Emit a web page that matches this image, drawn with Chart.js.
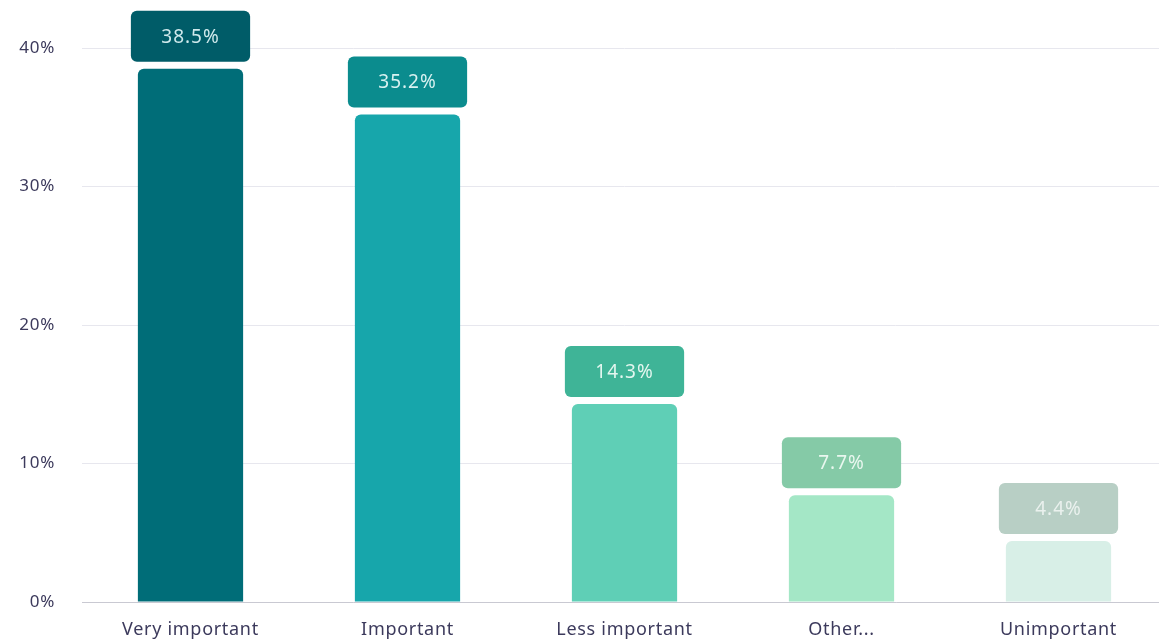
<!DOCTYPE html>
<html>
<head>
<meta charset="utf-8">
<script src="https://cdn.jsdelivr.net/npm/chart.js@4"></script>
<style>
  html, body { margin: 0; padding: 0; background: #fff; overflow: hidden; }
  #wrap { width: 1167px; height: 641px; position: relative; }
</style>
</head>
<body>
<div id="wrap"><canvas id="importanceChart"></canvas></div>
<script>
  // Survey answers (share of respondents, %)
  const categories = ['Very important', 'Important', 'Less important', 'Other...', 'Unimportant'];
  const shares = [38.5, 35.2, 14.3, 7.7, 4.4];
  const yTicks = [0, 10, 20, 30, 40];

  const barColors = ['#006d78', '#17a6ab', '#5fcfb6', '#a4e7c6', '#d8efe7'];
  const boxColors = ['#005c68', '#0b8c8e', '#3fb497', '#85caa7', '#b8cfc5'];
  const boxText = ['#cfe9ec', '#d8f1f0', '#e3f6ef', '#e9f7ef', '#eaf1ee'];

  const FONT = '"Noto Sans", Lato, sans-serif';

  // a bit of tracking so the text is as wide as the original's
  const tracking = {
    id: 'tracking',
    beforeDraw(chart) { chart.ctx.letterSpacing = '0.7px'; }
  };

  // rounded label boxes above every bar
  const valueBoxes = {
    id: 'valueBoxes',
    afterDatasetsDraw(chart) {
      const ctx = chart.ctx;
      const meta = chart.getDatasetMeta(0);
      ctx.save();
      meta.data.forEach((bar, i) => {
        const w = bar.width + 14;
        const h = 51;
        const x = bar.x - w / 2;
        const y = bar.y - 7 - h;
        ctx.fillStyle = boxColors[i];
        ctx.beginPath();
        ctx.roundRect(x, y, w, h, 6);
        ctx.fill();
        ctx.fillStyle = boxText[i];
        ctx.letterSpacing = '1px';
        ctx.font = '19px ' + FONT;
        ctx.textAlign = 'center';
        ctx.textBaseline = 'middle';
        ctx.fillText(shares[i].toFixed(1) + '%', bar.x, y + h / 2 + 1);
      });
      ctx.restore();
    }
  };

  new Chart(document.getElementById('importanceChart'), {
    type: 'bar',
    data: {
      labels: categories,
      datasets: [{
        data: shares,
        backgroundColor: barColors,
        borderRadius: 6,
        borderSkipped: 'start',
        barPercentage: 0.485,
        categoryPercentage: 1,
      }],
    },
    plugins: [tracking, valueBoxes],
    options: {
      responsive: true,
      maintainAspectRatio: false,
      animation: false,
      layout: { padding: { top: 48, left: 0, right: 0, bottom: 0 } },
      plugins: {
        legend: { display: false },
        tooltip: { enabled: false },
      },
      scales: {
        x: {
          grid: { display: false, drawTicks: false },
          border: { display: true, color: '#c9c9d2', width: 1 },
          ticks: {
            color: '#3c3a5c',
            padding: 17,
            font: { family: FONT, size: 18 },
          },
          afterFit(scale) { scale.height = 39; },
        },
        y: {
          min: 0,
          max: 40,
          afterBuildTicks(scale) { scale.ticks = yTicks.map(v => ({ value: v })); },
          grid: { color: '#e7e7ee', drawTicks: false },
          border: { display: false },
          ticks: {
            color: '#3c3a5c',
            padding: 27,
            font: { family: FONT, size: 17 },
            callback: (v) => v + '%',
          },
          afterFit(scale) { scale.width = 82; },
        },
      },
    },
  });
</script>
</body>
</html>
